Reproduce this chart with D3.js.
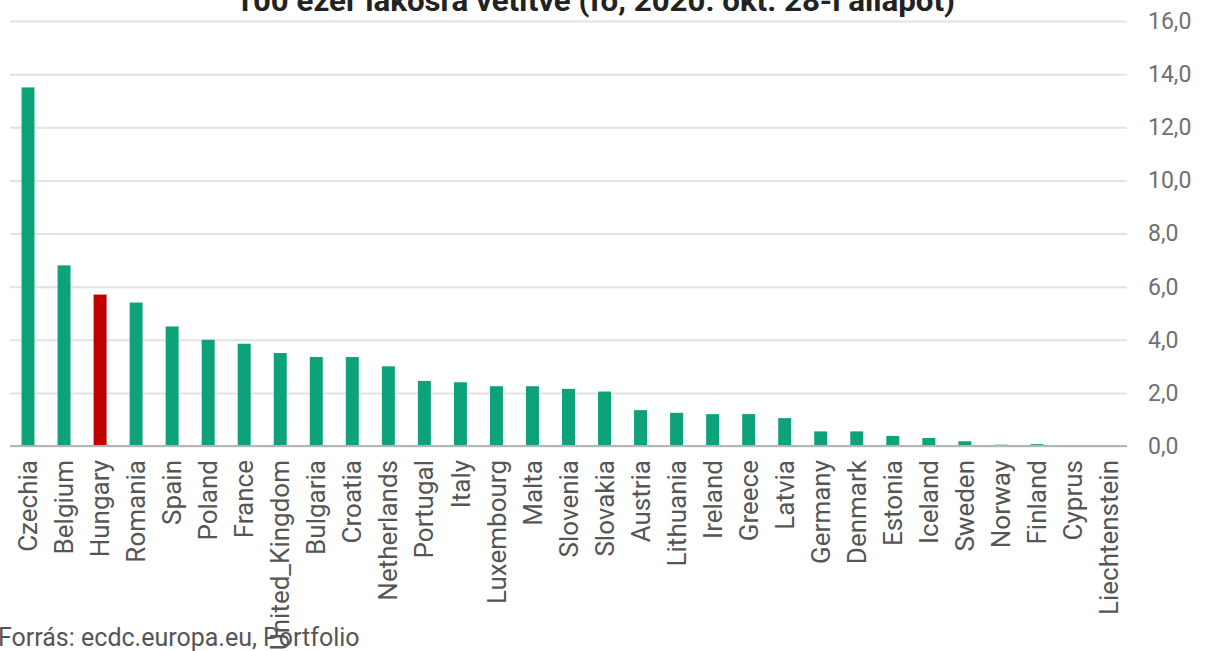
<!DOCTYPE html>
<meta charset="utf-8">
<script src="https://d3js.org/d3.v7.min.js"></script>
<style>
  body { margin: 0; background: #fff; }
  text { font-family: Roboto, "Noto Sans", sans-serif; }
</style>
<div id="chart"></div>
<script>

// countries, sorted as in the source
var countries = ["Czechia", "Belgium", "Hungary", "Romania", "Spain", "Poland", "France",
  "United_Kingdom", "Bulgaria", "Croatia", "Netherlands", "Portugal", "Italy", "Luxembourg",
  "Malta", "Slovenia", "Slovakia", "Austria", "Lithuania", "Ireland", "Greece", "Latvia",
  "Germany", "Denmark", "Estonia", "Iceland", "Sweden", "Norway", "Finland", "Cyprus",
  "Liechtenstein"];

// deaths per 100k inhabitants
var values = [13.5, 6.8, 5.7, 5.4, 4.5, 4.0, 3.85, 3.5, 3.35, 3.35, 3.0, 2.45, 2.4, 2.25,
  2.25, 2.15, 2.05, 1.35, 1.25, 1.2, 1.2, 1.05, 0.55, 0.55, 0.38, 0.3, 0.18, 0.05, 0.07,
  0, 0];

var highlight = "Hungary";

var yTicks = [0, 2, 4, 6, 8, 10, 12, 14, 16];

var title = "100 ezer lakosra vetítve (fő, 2020. okt. 28-i állapot)";
var source = "Forrás: ecdc.europa.eu, Portfolio";

var width = 1209, height = 651;

var svg = d3.select("#chart")
  .append("svg")
  .attr("width", width)
  .attr("height", height);

var x = d3.scaleBand()
  .domain(countries)
  .range([10, 1127])
  .paddingInner(0.64)
  .paddingOuter(0.32);

var y = d3.scaleLinear()
  .domain([0, 16])
  .range([446, 21]);

// gridlines + right-hand value labels
var yAxis = d3.axisRight(y)
  .tickValues(yTicks)
  .tickSize(1127 - 10)
  .tickFormat(function(d) { return d3.format(".1f")(d).replace(".", ","); });

var gy = svg.append("g")
  .attr("transform", "translate(10,0)")
  .call(yAxis);

gy.select(".domain").remove();
gy.selectAll(".tick line")
  .attr("stroke", "#e3e3e3")
  .attr("stroke-width", 2);
gy.selectAll(".tick text")
  .attr("x", 1138)
  .attr("dy", "0.32em")
  .attr("fill", "#707070")
  .style("font-size", "23px");

// bars
svg.selectAll(".bar")
  .data(countries)
  .enter()
  .append("rect")
  .attr("class", "bar")
  .attr("x", function(d) { return x(d); })
  .attr("width", x.bandwidth())
  .attr("y", function(d, i) { return y(values[i]); })
  .attr("height", function(d, i) { return y(0) - y(values[i]); })
  .attr("fill", function(d) { return d === highlight ? "#c00000" : "#0ea27b"; });

// baseline
svg.append("line")
  .attr("x1", 10).attr("x2", 1127)
  .attr("y1", y(0)).attr("y2", y(0))
  .attr("stroke", "#b5b5b5")
  .attr("stroke-width", 2);

// category labels, rotated
svg.selectAll(".label")
  .data(countries)
  .enter()
  .append("text")
  .attr("class", "label")
  .attr("transform", function(d) {
    return "translate(" + (x(d) + x.bandwidth() / 2) + ",460) rotate(-90)";
  })
  .attr("dy", "0.35em")
  .attr("text-anchor", "end")
  .attr("fill", "#555")
  .style("font-size", "26px")
  .text(function(d) { return d; });

// title (cut at the top, like the original)
svg.append("text")
  .attr("x", 595)
  .attr("y", 11)
  .attr("text-anchor", "middle")
  .attr("fill", "#222")
  .attr("textLength", 720)
  .attr("lengthAdjust", "spacingAndGlyphs")
  .style("font-size", "29px")
  .style("font-weight", "bold")
  .text(title);

// source
svg.append("text")
  .attr("x", -2)
  .attr("y", 646)
  .attr("fill", "#555")
  .style("font-size", "25px")
  .text(source);

</script>
